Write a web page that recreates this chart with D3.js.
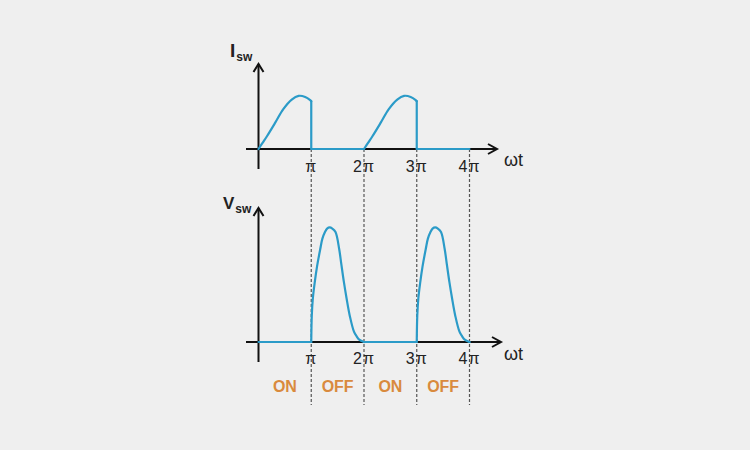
<!DOCTYPE html>
<html lang="en">
  <head>
    <title>Switch current and voltage</title>
    <meta charset="utf-8" />
    <script src="https://cdn.jsdelivr.net/npm/d3@7"></script>
    <style>
      body { margin: 0; background: #efefef; }
    </style>
  </head>
  <body>
    <svg id="chart" width="750" height="450" viewBox="0 0 750 450"></svg>
    <script>
      // x positions in units of pi
      const ticks = [1, 2, 3, 4];
      const tickLabels = ["π", "2π", "3π", "4π"];
      const stateMid = [0.5, 1.5, 2.5, 3.5];
      const stateLabels = ["ON", "OFF", "ON", "OFF"];

      // switch current: one hump per ON interval (phase inside interval, relative level)
      const iswStarts = [0, 2];
      const iswPhase = [0, 0.08, 0.16, 0.32, 0.47, 0.63, 0.76, 0.885, 0.98, 1.0];
      const iswLevel = [0, 0.12, 0.24, 0.5, 0.75, 0.93, 1.0, 0.98, 0.92, 0.9];

      // switch voltage: one hump per OFF interval
      const vswStarts = [1, 3];
      const vswPhase = [0, 0.01, 0.03, 0.066, 0.11, 0.17, 0.21, 0.26, 0.3, 0.35, 0.4,
                        0.46, 0.53, 0.57, 0.62, 0.67, 0.73, 0.81, 0.86, 0.91, 1.0];
      const vswLevel = [0, 0.23, 0.38, 0.52, 0.66, 0.81, 0.9, 0.96, 0.99, 1.0, 0.99,
                        0.96, 0.81, 0.68, 0.52, 0.38, 0.23, 0.09, 0.05, 0.02, 0];

      const blue = "#2b9bc8";
      const orange = "#d98a3d";
      const font = "'Liberation Sans', Arial, sans-serif";

      const svg = d3.select("#chart").attr("font-family", font);

      const x = d3.scaleLinear().domain([0, 4]).range([258.5, 469.5]);

      // two panels share the x scale
      const panels = [
        { name: "I", y: d3.scaleLinear().domain([0, 1.6]).range([149, 64]),
          starts: iswStarts, phase: iswPhase, level: iswLevel,
          nameSize: 19, nameX: 230, nameY: 57, arrowEnd: 497, wtY: 166, tickY: 172 },
        { name: "V", y: d3.scaleLinear().domain([0, 1.17]).range([342, 208]),
          starts: vswStarts, phase: vswPhase, level: vswLevel,
          nameSize: 17, nameX: 223, nameY: 209, arrowEnd: 501, wtY: 360, tickY: 364 }
      ];

      // dashed guides from top axis down past the state labels
      svg.append("g")
        .selectAll("line")
        .data(ticks)
        .join("line")
        .attr("x1", d => x(d)).attr("x2", d => x(d))
        .attr("y1", panels[0].y(0)).attr("y2", 405)
        .attr("stroke", "#555")
        .attr("stroke-width", 1.2)
        .attr("stroke-dasharray", "3,2");

      const hump = d3.line()
        .x(d => x(d[0]))
        .curve(d3.curveCatmullRom.alpha(0.5));
      const straight = d3.line().x(d => x(d[0]));

      panels.forEach(p => {
        const g = svg.append("g");
        const y0 = p.y(0);
        const top = p.y.range()[1];

        // axes
        g.append("line")
          .attr("x1", 246).attr("x2", p.arrowEnd)
          .attr("y1", y0).attr("y2", y0)
          .attr("stroke", "#111").attr("stroke-width", 2);
        g.append("line")
          .attr("x1", x(0)).attr("x2", x(0))
          .attr("y1", y0 + 20).attr("y2", top)
          .attr("stroke", "#111").attr("stroke-width", 2);
        g.append("path")
          .attr("d", `M${p.arrowEnd - 9},${y0 - 5}L${p.arrowEnd},${y0}L${p.arrowEnd - 9},${y0 + 5}`)
          .attr("fill", "none").attr("stroke", "#111").attr("stroke-width", 2);
        g.append("path")
          .attr("d", `M${x(0) - 5},${top + 8}L${x(0)},${top}L${x(0) + 5},${top + 8}`)
          .attr("fill", "none").attr("stroke", "#111").attr("stroke-width", 2);

        // trace: flat runs and vertical drops are straight, humps are smooth
        hump.y(d => p.y(d[1]));
        straight.y(d => p.y(d[1]));
        let cur = 0;
        const flats = [];
        p.starts.forEach(s => {
          const pts = p.phase.map((t, i) => [s + t, p.level[i]]);
          g.append("path")
            .attr("d", hump(pts))
            .attr("fill", "none").attr("stroke", blue)
            .attr("stroke-width", 2.2).attr("stroke-linecap", "round");
          if (s > cur) flats.push([[cur, 0], [s, 0]]);
          const last = pts[pts.length - 1];
          flats.push([last, [last[0], 0]]);
          cur = last[0];
        });
        if (cur < 4) flats.push([[cur, 0], [4, 0]]);
        g.selectAll(".flat")
          .data(flats)
          .join("path")
          .attr("d", straight)
          .attr("fill", "none").attr("stroke", blue)
          .attr("stroke-width", 2.2).attr("stroke-linecap", "round");

        // tick labels
        g.selectAll(".tick")
          .data(ticks)
          .join("text")
          .attr("x", d => x(d))
          .attr("y", p.tickY)
          .attr("text-anchor", "middle")
          .attr("font-size", "16px")
          .attr("letter-spacing", "1px")
          .attr("fill", "#222")
          .text((d, i) => tickLabels[i]);

        g.append("text")
          .attr("x", 504).attr("y", p.wtY)
          .attr("font-size", "18px").attr("fill", "#222")
          .text("ωt");

        const lbl = g.append("text")
          .attr("x", p.nameX).attr("y", p.nameY)
          .attr("font-weight", "700").attr("fill", "#222");
        lbl.append("tspan").attr("font-size", p.nameSize + "px").text(p.name);
        lbl.append("tspan").attr("font-size", "12px").attr("dx", 1).attr("dy", 4).text("sw");
      });

      // ON / OFF states
      svg.append("g")
        .selectAll("text")
        .data(stateMid)
        .join("text")
        .attr("x", d => x(d))
        .attr("y", 391.5)
        .attr("text-anchor", "middle")
        .attr("font-size", "16px")
        .attr("font-weight", "700")
        .attr("fill", orange)
        .text((d, i) => stateLabels[i]);
    </script>
  </body>
</html>
